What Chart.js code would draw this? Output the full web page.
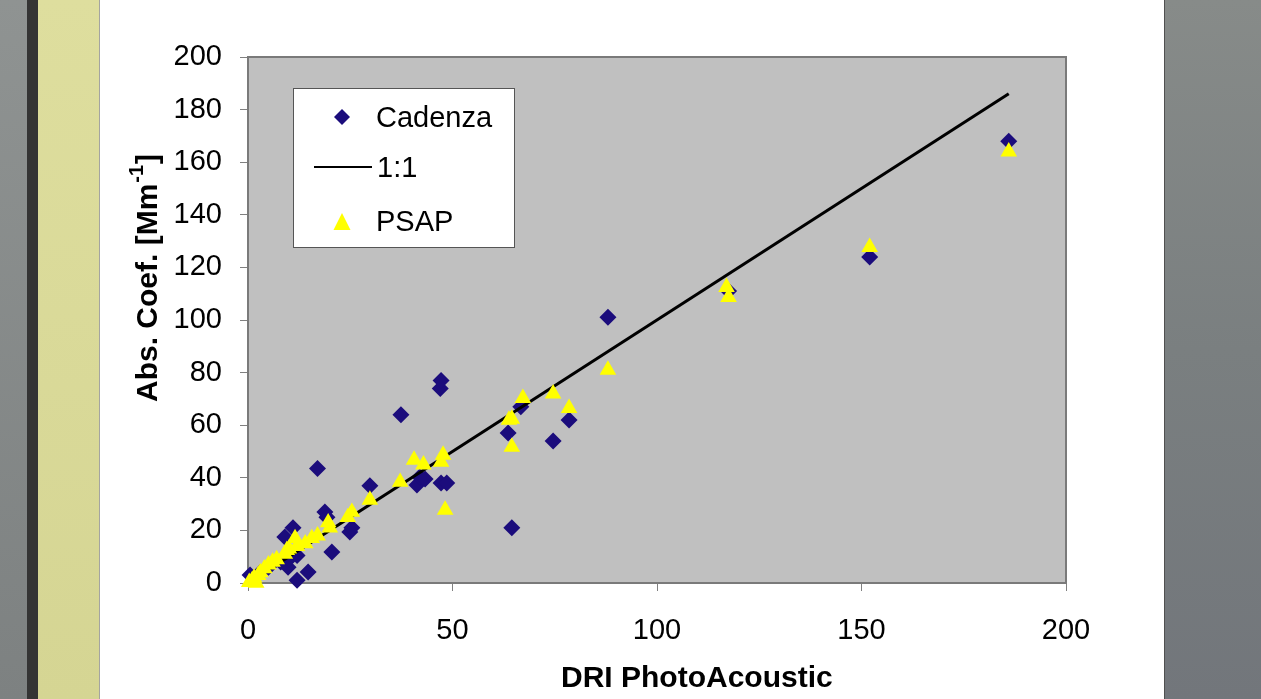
<!DOCTYPE html>
<html>
<head>
<meta charset="utf-8">
<script src="https://cdn.jsdelivr.net/npm/chart.js@4/dist/chart.umd.min.js"></script>
<style>
  html, body { margin: 0; padding: 0; width: 1261px; height: 699px; overflow: hidden; background: #fff; }
  .strip { position: absolute; top: 0; height: 699px; }
  #s1 { left: 0; width: 27px; background: linear-gradient(#8f9392, #7d8181); }
  #s2 { left: 27px; width: 11px; background: #343434; }
  #s3 { left: 38px; width: 61px; background: linear-gradient(#dede9e, #d5d593); }
  #s4 { left: 99px; width: 1px; background: #a4a4a0; }
  #s5 { left: 1164px; width: 1px; background: #505050; }
  #s6 { left: 1165px; width: 96px; background: linear-gradient(#878b89, #7a7f80 50%, #72767b); }
  #wrap { position: absolute; left: 100px; top: 0; width: 1064px; height: 699px; }
</style>
</head>
<body>
<div class="strip" id="s1"></div>
<div class="strip" id="s2"></div>
<div class="strip" id="s3"></div>
<div class="strip" id="s4"></div>
<div class="strip" id="s5"></div>
<div class="strip" id="s6"></div>
<div id="wrap"><canvas id="c"></canvas></div>
<script>
// ---- data ----
const cadenzaX = [0.5, 1.5, 3, 5, 8, 9, 9.8, 10, 11, 12, 12, 14.7, 17, 18.8, 19.3, 20.5, 24.9, 25.4, 29.8, 37.4, 41.3, 42, 43.3, 47, 47.2, 47.2, 48.6, 63.6, 64.5, 66.7, 74.6, 78.5, 88, 117.5, 152, 186];
const cadenzaY = [3, 2, 4, 6, 8, 17.5, 6, 9, 21, 1, 10.5, 4.2, 43.5, 27, 25, 11.8, 19.4, 21, 37, 64, 37.3, 40.3, 39.5, 74, 77, 38, 38, 57, 21, 67, 54, 62, 101, 111, 124, 168];
const psapX = [0.3, 1, 1.5, 2, 2.5, 3, 4, 5, 6, 7, 9, 9.5, 10, 11.5, 12, 14, 15.6, 17, 19.6, 20, 24.4, 25.4, 29.8, 37.2, 40.6, 42.9, 47.2, 47.7, 48.2, 63.8, 64.5, 64.5, 67.2, 74.6, 78.5, 88, 117, 117.5, 152, 186];
const psapY = [0.3, 1, 2, 0, 3, 4, 5.5, 7, 8, 9, 11, 12.5, 13, 17, 14, 15, 17, 18, 23, 21, 25, 27, 31.6, 38.4, 46.8, 45, 46, 48.7, 27.8, 62, 62.4, 51.7, 70.3, 72, 66.5, 81, 112.5, 108.7, 127.7, 164];
const lineX = [0, 186];
const lineY = [0, 186];
const xTickValues = [0, 50, 100, 150, 200];
const yTickValues = [0, 20, 40, 60, 80, 100, 120, 140, 160, 180, 200];
const seriesNames = ['Cadenza', '1:1', 'PSAP'];
const xTitle = 'DRI PhotoAcoustic';
const yTitleMain = 'Abs. Coef. [Mm';
const yTitleSup = '-1';
const yTitleEnd = ']';

const pts = (xs, ys) => xs.map((x, i) => ({x: x, y: ys[i]}));
const NAVY = '#1b0c7c';
const YELLOW = '#ffff00';
const FONT = "'Liberation Sans', Arial, Helvetica, sans-serif";

const bgPlugin = {
  id: 'bg',
  beforeDatasetsDraw(chart) {
    const {ctx, chartArea: a} = chart;
    ctx.save();
    ctx.fillStyle = '#c0c0c0';
    ctx.fillRect(a.left, a.top, a.right - a.left, a.bottom - a.top);
    ctx.strokeStyle = '#7a7a7a';
    ctx.lineWidth = 2;
    ctx.strokeRect(a.left, a.top, a.right - a.left, a.bottom - a.top);
    ctx.restore();
  },
  afterDraw(chart) {
    const {ctx} = chart;
    ctx.save();
    ctx.fillStyle = '#000';
    // x title
    ctx.font = "bold 30px " + FONT;
    ctx.textAlign = 'left';
    ctx.textBaseline = 'alphabetic';
    ctx.fillText(xTitle, 461, 687);
    // y title rotated
    ctx.translate(57, 402);
    ctx.rotate(-Math.PI / 2);
    ctx.font = "bold 30px " + FONT;
    ctx.fillText(yTitleMain, 0, 0);
    let w = ctx.measureText(yTitleMain).width;
    ctx.font = "bold 20px " + FONT;
    ctx.fillText(yTitleSup, w + 1, -14);
    w += ctx.measureText(yTitleSup).width + 2;
    ctx.font = "bold 30px " + FONT;
    ctx.fillText(yTitleEnd, w, 0);
    ctx.restore();

    // legend
    ctx.save();
    const bx = 193, by = 88, bw = 221, bh = 159;
    ctx.fillStyle = '#fff';
    ctx.fillRect(bx, by, bw, bh);
    ctx.strokeStyle = '#555';
    ctx.lineWidth = 1;
    ctx.strokeRect(bx + 0.5, by + 0.5, bw, bh);
    const d = chart.data.datasets;
    // diamond
    ctx.fillStyle = d[0].backgroundColor;
    ctx.beginPath();
    const cx = 242, cy = 117, r = 8;
    ctx.moveTo(cx, cy - r); ctx.lineTo(cx + r, cy); ctx.lineTo(cx, cy + r); ctx.lineTo(cx - r, cy); ctx.closePath();
    ctx.fill();
    // line
    ctx.strokeStyle = d[1].borderColor;
    ctx.lineWidth = 2;
    ctx.beginPath(); ctx.moveTo(214, 167); ctx.lineTo(272, 167); ctx.stroke();
    // triangle
    ctx.fillStyle = d[2].backgroundColor;
    ctx.beginPath();
    ctx.moveTo(242, 213); ctx.lineTo(250.5, 230); ctx.lineTo(233.5, 230); ctx.closePath();
    ctx.fill();
    ctx.fillStyle = '#000';
    ctx.font = "29px " + FONT;
    ctx.textBaseline = 'alphabetic';
    ctx.fillText(d[0].label, 276, 127);
    ctx.fillText(d[1].label, 277, 177);
    ctx.fillText(d[2].label, 276, 231);
    ctx.restore();
  }
};

const tickFont = {family: FONT, size: 29};

new Chart(document.getElementById('c'), {
  type: 'scatter',
  data: {
    datasets: [
      { label: seriesNames[0], data: pts(cadenzaX, cadenzaY), pointStyle: 'rectRot', pointRadius: 8.5, pointHoverRadius: 8.5,
        backgroundColor: NAVY, borderColor: NAVY, borderWidth: 0, order: 3, clip: false },
      { label: seriesNames[1], type: 'line', data: pts(lineX, lineY), showLine: true, pointRadius: 0, borderColor: '#000',
        borderWidth: 3, fill: false, order: 2, clip: false },
      { label: seriesNames[2], data: pts(psapX, psapY), pointStyle: 'triangle', pointRadius: 9.6, pointHoverRadius: 9.6,
        backgroundColor: YELLOW, borderColor: YELLOW, borderWidth: 0, order: 1, clip: false }
    ]
  },
  options: {
    responsive: true,
    maintainAspectRatio: false,
    animation: false,
    events: [],
    layout: { padding: { top: 57, right: 98, left: 0, bottom: 0 } },
    plugins: { legend: { display: false }, tooltip: { enabled: false } },
    scales: {
      x: {
        type: 'linear', min: 0, max: 200,
        afterBuildTicks: s => { s.ticks = xTickValues.map(v => ({value: v})); },
        afterFit: s => { s.height = 116; },
        ticks: { font: tickFont, color: '#000', padding: 23, maxRotation: 0 },
        grid: { drawOnChartArea: false, drawTicks: true, tickLength: 8, color: '#808080', lineWidth: 1 },
        border: { display: true, color: '#7a7a7a', width: 1 },
        title: { display: false }
      },
      y: {
        type: 'linear', min: 0, max: 200,
        afterBuildTicks: s => { s.ticks = yTickValues.map(v => ({value: v})); },
        afterFit: s => { s.width = 148; },
        ticks: { font: tickFont, color: '#000', padding: 18 },
        grid: { drawOnChartArea: false, drawTicks: true, tickLength: 8, color: '#808080', lineWidth: 1 },
        border: { display: true, color: '#7a7a7a', width: 1 },
        title: { display: false }
      }
    }
  },
  plugins: [bgPlugin]
});
</script>
</body>
</html>
